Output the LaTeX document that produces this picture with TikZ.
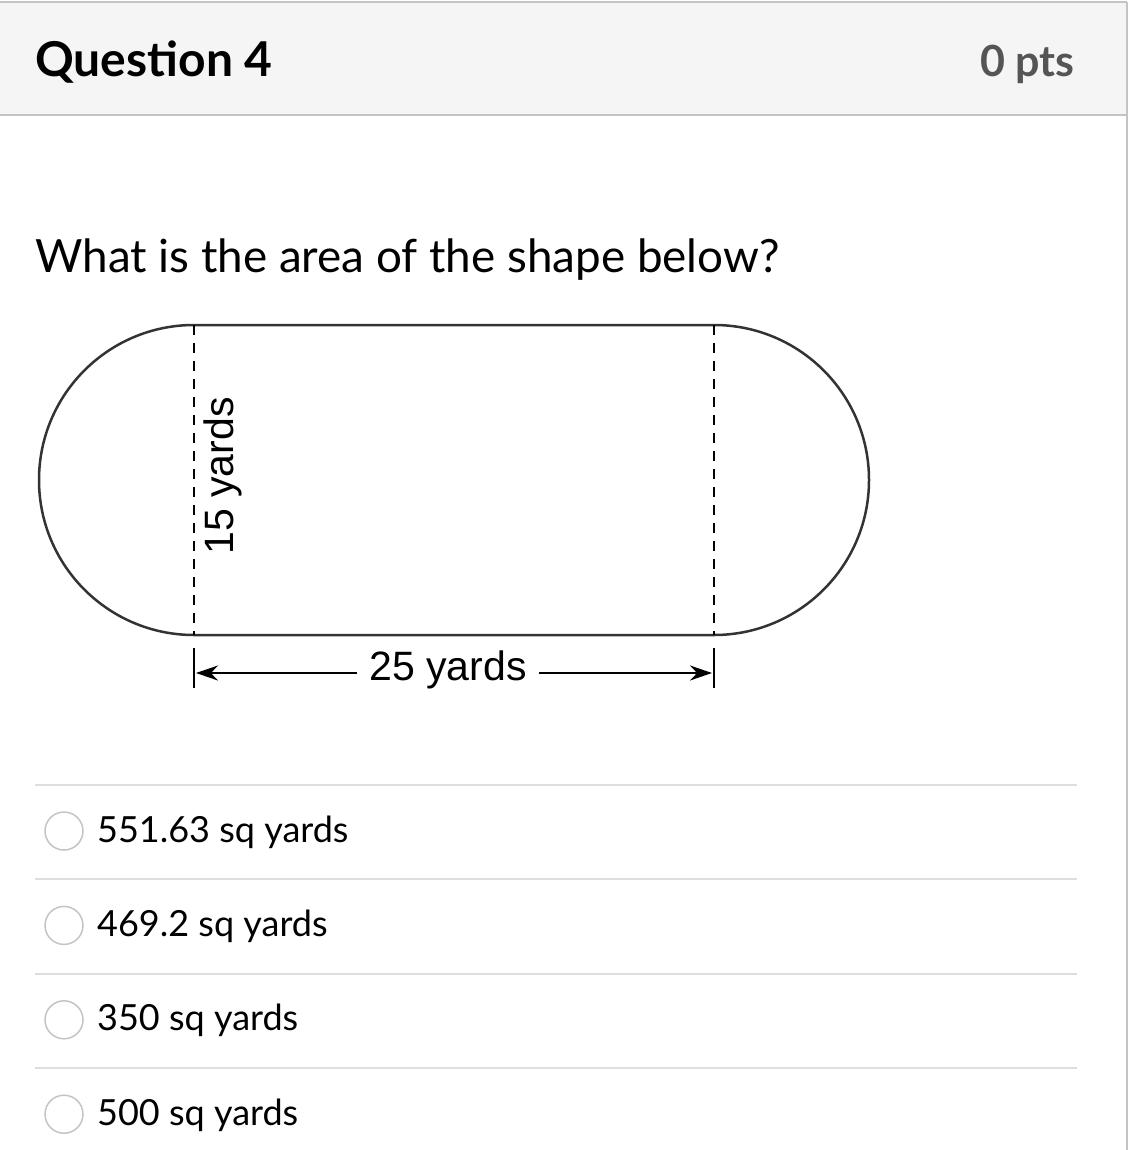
\documentclass[tikz,border=0pt]{standalone}
\usepackage{fontspec}
\setmainfont{Lato}
\newfontfamily\figfont{Liberation Sans}
\usetikzlibrary{math,arrows.meta}
\definecolor{headgray}{HTML}{F5F5F5}
\definecolor{rulegray}{HTML}{C4C4C4}
\definecolor{sepgray}{HTML}{DEDEDE}
\definecolor{ptsgray}{HTML}{555555}
\definecolor{shapegray}{HTML}{333333}

\begin{document}
\begin{tikzpicture}[x=1pt,y=-1pt,
  txt/.style={inner sep=0pt,anchor=base west},
  answer/.style={txt,font=\fontsize{36}{40}\selectfont},
  radio/.style={circle,draw=rulegray,line width=1.5pt,fill=white,minimum size=38pt,inner sep=0pt},
  dim/.style={font=\figfont\fontsize{41}{44}\selectfont,inner sep=0pt}]
  \tikzmath{
    real \Left,\Right,\Top,\Bottom,\r;
    \Left=194;
    \Right=714;
    \Top=325;
    \Bottom=635;
    \r=(\Bottom-\Top)/2;
  }
  \useasboundingbox (0,0) rectangle (1144,1150);
  % header
  \fill[headgray] (0,2) rectangle (1127,115);
  \draw[rulegray,line width=2pt] (0,2) -- (1127,2) (0,115) -- (1127,115) (1127,2) -- (1127,1150);
  \node[txt,font=\bfseries\fontsize{48}{52}\selectfont] (title) at (35,77) {Question 4};
  \node[inner sep=0pt,anchor=base east,text=ptsgray,font=\bfseries\fontsize{43}{46}\selectfont] (pts) at (1075,77) {0 pts};
  \node[txt,font=\fontsize{45.8}{50}\selectfont] (quest) at (35,272) {What is the area of the shape below?};

  % the shape
  \coordinate (p1) at (\Left,\Top);
  \coordinate (p2) at (\Right,\Top);
  \coordinate (p3) at (\Left,\Bottom);
  \coordinate (p4) at (\Right,\Bottom);
  \draw[shapegray,line width=2.5pt] (p1) -- (p2) arc[start angle=-90,end angle=90,radius=\r]
    -- (p3) arc[start angle=90,end angle=270,radius=\r] -- cycle;
  \draw[dash pattern=on 10pt off 8pt,line width=2pt] (p1) -- (p3) (p2) -- (p4);
  \node[dim,rotate=90,anchor=base] (height) at (233,476) {15 yards};

  % width
  \coordinate (t1) at (\Left,648);
  \coordinate (t2) at (\Left,688);
  \coordinate (t3) at (\Right,648);
  \coordinate (t4) at (\Right,688);
  \draw[line width=2pt] (t1) -- (t2) (t3) -- (t4);
  \coordinate (a1) at (\Left+2,673);
  \coordinate (a2) at (\Right-2,673);
  \node[dim,inner xsep=12pt,fill=white] (width) at (448,670) {25 yards};
  \draw[line width=2pt,-{Stealth[length=22pt,width=15pt]}] (width.west |- a1) -- (a1);
  \draw[line width=2pt,-{Stealth[length=22pt,width=15pt]}] (width.east |- a2) -- (a2);

  % answers
  \foreach \ans [count=\i, evaluate=\i as \y using 831+94.4*(\i-1)] in
      {551.63 sq yards,469.2 sq yards,350 sq yards,500 sq yards}{
    \draw[sepgray,line width=2pt] (35,\y-46) -- (1077,\y-46);
    \node[radio] (r\i) at (64,\y) {};
    \node[answer] (ans\i) at (97,\y+11) {\ans};
  }
\end{tikzpicture}
\end{document}
